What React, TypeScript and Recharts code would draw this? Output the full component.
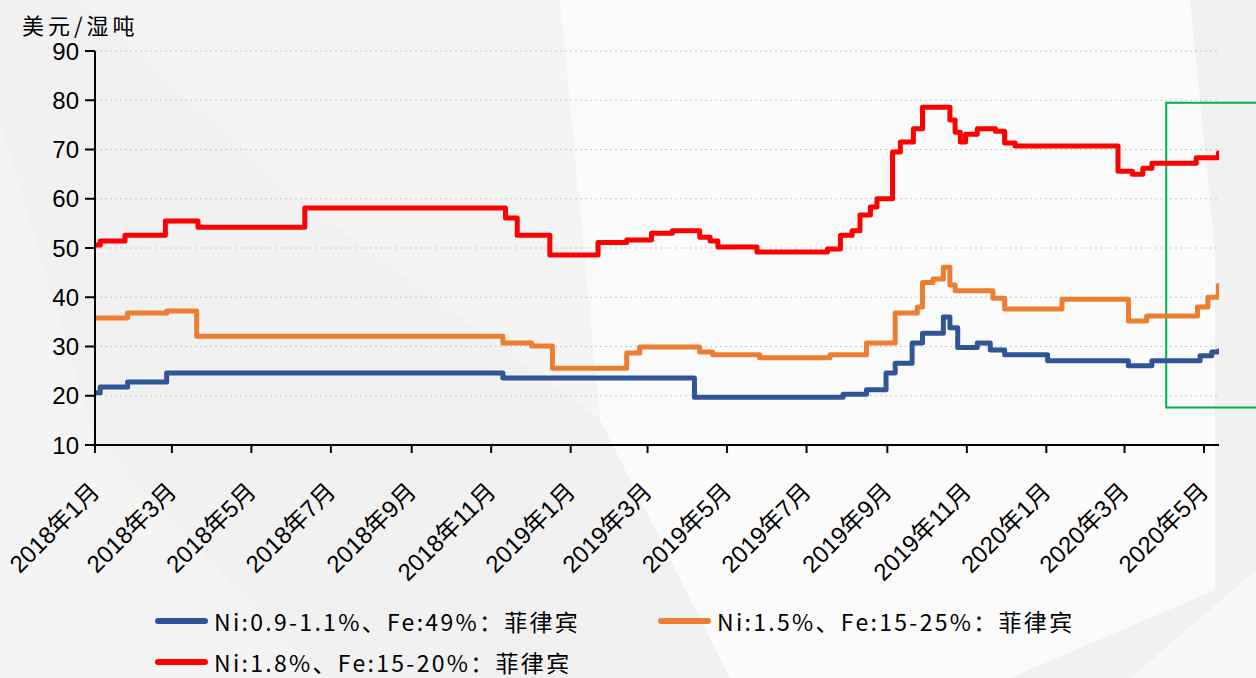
import { LineChart, Line, XAxis, YAxis, CartesianGrid, Legend, ReferenceArea } from 'recharts';

// Ni 0.9-1.1% (blue)
const lowNiDates = [
  '2018-01-01', '2018-01-05', '2018-01-26', '2018-02-25', '2018-11-10', '2019-04-06',
  '2019-07-29', '2019-08-16', '2019-08-31', '2019-09-07', '2019-09-20', '2019-09-28',
  '2019-10-14', '2019-10-19', '2019-10-25', '2019-11-09', '2019-11-19', '2019-11-30',
  '2020-01-02', '2020-03-04', '2020-03-22', '2020-04-28', '2020-05-07', '2020-05-12',
];
const lowNiValues = [
  20.6, 21.8, 22.8, 24.6, 23.6, 19.7,
  20.3, 21.2, 24.6, 26.6, 30.7, 32.7,
  36, 33.8, 29.8, 30.7, 29.3, 28.3,
  27.1, 26.1, 27.1, 28.1, 28.9, 29.1,
];

// Ni 1.5% (orange)
const midNiDates = [
  '2018-01-01', '2018-01-26', '2018-02-25', '2018-03-20', '2018-11-10', '2018-12-02',
  '2018-12-18', '2019-02-13', '2019-02-23', '2019-04-10', '2019-04-20', '2019-05-26',
  '2019-07-19', '2019-08-16', '2019-09-07', '2019-09-24', '2019-09-28', '2019-10-06',
  '2019-10-14', '2019-10-19', '2019-10-23', '2019-11-21', '2019-11-30', '2020-01-13',
  '2020-03-04', '2020-03-18', '2020-04-26', '2020-05-04', '2020-05-12',
];
const midNiValues = [
  35.8, 36.8, 37.2, 32.1, 30.7, 30.1,
  25.6, 28.7, 29.9, 28.9, 28.3, 27.7,
  28.3, 30.7, 36.8, 38, 43, 43.7,
  46.1, 42.5, 41.3, 39.8, 37.6, 39.6,
  35.2, 36.2, 38, 40, 42.4,
];

// Ni 1.8% (red)
const highNiDates = [
  '2018-01-01', '2018-01-05', '2018-01-24', '2018-02-24', '2018-03-21', '2018-06-11',
  '2018-11-12', '2018-11-21', '2018-12-16', '2019-01-22', '2019-02-13', '2019-03-04',
  '2019-03-20', '2019-04-10', '2019-04-18', '2019-04-24', '2019-05-24', '2019-07-17',
  '2019-07-27', '2019-08-05', '2019-08-11', '2019-08-19', '2019-08-24', '2019-09-05',
  '2019-09-11', '2019-09-21', '2019-09-28', '2019-10-19', '2019-10-23', '2019-10-27',
  '2019-10-31', '2019-11-09', '2019-11-23', '2019-11-30', '2019-12-08', '2020-02-25',
  '2020-03-07', '2020-03-15', '2020-03-22', '2020-04-25', '2020-05-12',
];
const highNiValues = [
  50.6, 51.4, 52.6, 55.5, 54.2, 58.1,
  56.1, 52.6, 48.6, 51.1, 51.6, 53,
  53.5, 52.2, 51.4, 50.2, 49.2, 49.8,
  52.6, 53.5, 56.7, 58.3, 60, 69.5,
  71.5, 74.2, 78.6, 76, 73.5, 71.5,
  73.1, 74.2, 73.7, 71.3, 70.7, 65.6,
  65, 66.2, 67.2, 68.3, 69.3,
];

const seriesNames = [
  'Ni:0.9-1.1%、Fe:49%：菲律宾',
  'Ni:1.5%、Fe:15-25%：菲律宾',
  'Ni:1.8%、Fe:15-20%：菲律宾',
];
const seriesColors = ['#2f5597', '#ed7d31', '#ff0000'];

const tickDates = [
  '2018-01-01', '2018-03-01', '2018-05-01', '2018-07-01', '2018-09-01', '2018-11-01',
  '2019-01-01', '2019-03-01', '2019-05-01', '2019-07-01', '2019-09-01', '2019-11-01',
  '2020-01-01', '2020-03-01', '2020-05-01',
];
const yTicks = [10, 20, 30, 40, 50, 60, 70, 80, 90];

const toRows = (dates: string[], values: number[]) =>
  dates.map((d, i) => ({ t: Date.parse(d), v: values[i] }));

const lowNiData = toRows(lowNiDates, lowNiValues);
const midNiData = toRows(midNiDates, midNiValues);
const highNiData = toRows(highNiDates, highNiValues);

const xStart = Date.parse('2018-01-01');
const xEnd = Date.parse('2020-05-12T12:00:00Z');
const xTicks = tickDates.map((d) => Date.parse(d));

const fmtMonth = (t: number) => {
  const d = new Date(t);
  return `${d.getUTCFullYear()}年${d.getUTCMonth() + 1}月`;
};

const FONT = '"Liberation Sans", "Noto Sans CJK SC", sans-serif';

const MonthTick = (props: any) => {
  const { x, y, payload } = props;
  const ax = x + 6;
  const ay = y + 38;
  return (
    <text
      x={ax}
      y={ay}
      transform={`rotate(-45 ${ax} ${ay})`}
      textAnchor="end"
      fontSize={24}
      fontFamily={FONT}
      fill="#000"
    >
      {fmtMonth(payload.value)}
    </text>
  );
};

const LegendBox = () => (
  <div style={{ display: 'flex', flexWrap: 'wrap', width: 1010, fontFamily: '"Noto Sans CJK SC", sans-serif' }}>
    {seriesNames.map((name, i) => (
      <div key={name} style={{ width: 503, height: 41, display: 'flex', alignItems: 'center' }}>
        <span style={{ display: 'inline-block', width: 53, height: 6, borderRadius: 3, background: seriesColors[i], marginRight: 6 }} />
        <span style={{ fontSize: 23, lineHeight: '28px', letterSpacing: 2.3, color: '#000', whiteSpace: 'nowrap' }}>{name}</span>
      </div>
    ))}
  </div>
);

function Background() {
  return (
    <svg width={1256} height={678} style={{ position: 'absolute', left: 0, top: 0 }}>
      <rect x={0} y={0} width={1256} height={678} fill="#f1f1f1" />
      <polygon points="560,0 1190,0 1215,250 1215,590 1010,678 730,678 600,420" fill="#fbfbfb" />
      <polygon points="0,120 95,440 320,678 0,678" fill="#f4f4f4" />
      <polygon points="1130,678 1256,570 1256,678" fill="#f9f9f9" />
      <polygon points="80,0 560,0 600,420 300,200" fill="#f4f4f4" />
    </svg>
  );
}

export default function App() {
  return (
    <div style={{ position: 'absolute', left: 0, top: 0, width: 1256, height: 678, overflow: 'hidden', fontFamily: FONT }}>
      <Background />
      <div
        style={{
          position: 'absolute',
          left: 22,
          top: 8,
          fontSize: 22,
          letterSpacing: 4,
          fontFamily: '"Noto Sans CJK SC", sans-serif',
          color: '#000',
        }}
      >
        美元/湿吨
      </div>
      <div style={{ position: 'absolute', left: 0, top: 0 }}>
        <LineChart width={1256} height={678} margin={{ top: 51, right: 37, bottom: 133, left: 0 }}>
          <CartesianGrid horizontal vertical={false} stroke="#c8c8c8" strokeDasharray="2 3" />
          <XAxis
            dataKey="t"
            type="number"
            domain={[xStart, xEnd]}
            ticks={xTicks}
            allowDataOverflow
            height={100}
            tickSize={8}
            tickMargin={2}
            tick={<MonthTick />}
            axisLine={{ stroke: '#000', strokeWidth: 2 }}
            tickLine={{ stroke: '#000', strokeWidth: 2 }}
            interval={0}
          />
          <YAxis
            type="number"
            domain={[10, 90]}
            ticks={yTicks}
            width={95}
            tickSize={10}
            tickMargin={6}
            tick={{ fontSize: 24, fill: '#000', fontFamily: FONT }}
            axisLine={{ stroke: '#000', strokeWidth: 2 }}
            tickLine={{ stroke: '#000', strokeWidth: 2 }}
            interval={0}
          />
          <ReferenceArea
            x1={Date.parse('2020-04-02')}
            x2={Date.parse('2020-06-20')}
            y1={17.6}
            y2={79.5}
            ifOverflow="visible"
            fill="none"
            stroke="#00b050"
            strokeWidth={2}
          />
          <Line data={lowNiData} dataKey="v" name={seriesNames[0]} type="stepAfter" stroke={seriesColors[0]} strokeWidth={5} dot={false} strokeLinejoin="round" strokeLinecap="round" isAnimationActive={false} />
          <Line data={midNiData} dataKey="v" name={seriesNames[1]} type="stepAfter" stroke={seriesColors[1]} strokeWidth={5} dot={false} strokeLinejoin="round" strokeLinecap="round" isAnimationActive={false} />
          <Line data={highNiData} dataKey="v" name={seriesNames[2]} type="stepAfter" stroke={seriesColors[2]} strokeWidth={5} dot={false} strokeLinejoin="round" strokeLinecap="round" isAnimationActive={false} />
          <Legend
            layout="horizontal"
            verticalAlign="middle"
            align="center"
            content={<LegendBox />}
            wrapperStyle={{ top: 600, left: 155, width: 1010 }}
          />
        </LineChart>
      </div>
    </div>
  );
}
